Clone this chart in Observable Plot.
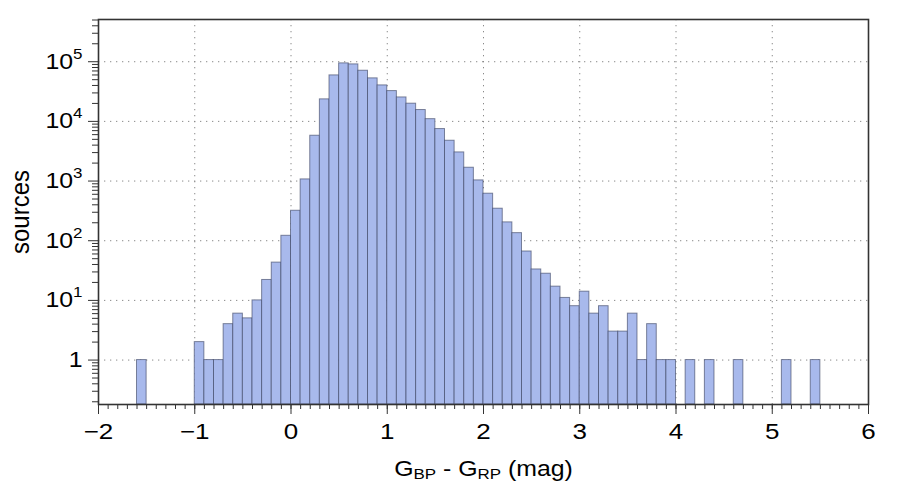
<!DOCTYPE html>
<html><head><meta charset="utf-8">
<script src="https://cdn.jsdelivr.net/npm/d3@7"></script>
<script src="https://cdn.jsdelivr.net/npm/@observablehq/plot@0.6"></script>
<style>body{margin:0;background:#fff}</style>
</head><body><div id="chart"></div>
<script>
const binWidth = 0.1;
const binLeft = [-1.6,
  -1.0,-0.9,-0.8,-0.7,-0.6,-0.5,-0.4,-0.3,-0.2,-0.1,
  0.0,0.1,0.2,0.3,0.4,0.5,0.6,0.7,0.8,0.9,
  1.0,1.1,1.2,1.3,1.4,1.5,1.6,1.7,1.8,1.9,
  2.0,2.1,2.2,2.3,2.4,2.5,2.6,2.7,2.8,2.9,
  3.0,3.1,3.2,3.3,3.4,3.5,3.6,3.7,3.8,3.9,
  4.1,4.3,4.6,5.1,5.4];
const counts = [1,
  2,1,1,4,6,5,10,22,43,121,
  318,1066,5750,23400,59000,93800,90200,70600,52600,40100,
  32200,25200,19800,15500,10900,7440,4740,3020,1672,1026,
  614,344,203,134,66,33,28,17,11,8,
  14,6,8,3,3,6,1,4,1,1,
  1,1,1,1,1];
const xTicks = [-2,-1,0,1,2,3,4,5,6];
const yTicks = [1,10,100,1000,10000,100000];
const xLabel = "G_BP - G_RP (mag)";
const yLabel = "sources";

const yMin = 0.18, yMax = 5.1e5;
const bins = binLeft.map((x, i) => ({x1: x, x2: Math.round((x + binWidth) * 10) / 10, count: counts[i]}));
const minorX = d3.range(-20, 61).map(i => i / 10);
const minorY = [];
for (let e = -1; e <= 5; e++) for (let m = 2; m <= 9; m++) {
  const v = m * Math.pow(10, e);
  if (v >= yMin && v <= yMax) minorY.push(v);
}

const font = "Helvetica, 'Liberation Sans', Arial, sans-serif";
const gridStyle = {stroke: "#8a8a8a", strokeOpacity: 1, strokeWidth: 1, strokeDasharray: "1.3,4.7"};

const chart = Plot.plot({
  width: 902, height: 491,
  marginLeft: 98, marginRight: 34, marginTop: 19, marginBottom: 87,
  style: {fontFamily: font, fontSize: "22px", color: "#000", background: "#fff", overflow: "visible"},
  x: {domain: [-2, 6]},
  y: {type: "log", domain: [yMin, yMax]},
  marks: [
    Plot.gridX(xTicks.slice(1, -1), gridStyle),
    Plot.gridY(yTicks, gridStyle),
    Plot.rectY(bins, {x1: "x1", x2: "x2", y1: yMin, y2: "count", inset: 0,
      fill: "#a8b9ec", stroke: "#363d5c", strokeOpacity: 0.6, strokeWidth: 1}),
    Plot.axisX(minorX, {tickSize: 5, text: null, label: null, stroke: "#333"}),
    Plot.axisX(xTicks, {tickSize: 10, tickPadding: 9, label: null, stroke: "#333", fill: "#000", fontSize: 22}),
    Plot.axisY(minorY, {tickSize: 6, text: null, label: null, stroke: "#333"}),
    Plot.axisY(yTicks, {tickSize: 10, tickPadding: 6, label: null, stroke: "#333", fill: "#000", fontSize: 22,
      tickFormat: d => d === 1 ? "1" : "10^" + Math.round(Math.log10(d))}),
    Plot.frame({stroke: "#333", strokeWidth: 1.6}),
    Plot.text([xLabel], {frameAnchor: "bottom", lineAnchor: "top", dy: 56, fontSize: 22, fill: "#000"}),
    Plot.text([yLabel], {frameAnchor: "left", textAnchor: "middle", lineAnchor: "middle", rotate: -90, dx: -78, fontSize: 24, fill: "#000"})
  ]
});
document.getElementById("chart").appendChild(chart);

const svg = d3.select(chart);
const k = 1.13; // glyphs in the reference are drawn wider than tall

function stretch(el, sx, sy) {
  const tr = el.getAttribute("transform");
  if (tr) el.setAttribute("transform", tr + ` scale(${sx},${sy})`);
  else {
    const x = +el.getAttribute("x") || 0, y = +el.getAttribute("y") || 0;
    el.setAttribute("transform", `translate(${x},${y}) scale(${sx},${sy}) translate(${-x},${-y})`);
  }
}

// superscripts on y tick labels
svg.selectAll('g[aria-label="y-axis tick label"] text').each(function() {
  const t = d3.select(this);
  const s = t.text();
  if (s.startsWith("10^")) {
    const exp = s.slice(3);
    t.text("10");
    t.append("tspan").attr("dy", -10).attr("font-size", 15).text(exp);
  }
  stretch(this, k, 1);
});
svg.selectAll('g[aria-label="x-axis tick label"] text').each(function() { stretch(this, k + 0.05, 1); });

svg.selectAll("text").each(function() {
  const t = d3.select(this);
  const s = t.text();
  if (s === xLabel) {
    const parts = s.split(/(_BP|_RP)/);
    t.text("");
    let shifted = false;
    for (const p of parts) {
      if (p === "_BP" || p === "_RP") {
        t.append("tspan").attr("dy", 3).attr("font-size", 15).text(p.slice(1));
        shifted = true;
      } else if (p.length) {
        const sp = t.append("tspan").text(p);
        if (shifted) { sp.attr("dy", -3); shifted = false; }
      }
    }
    stretch(this, k, 1);
  } else if (s === yLabel) {
    stretch(this, 1, 1.1);
  }
});
</script>
</body></html>
